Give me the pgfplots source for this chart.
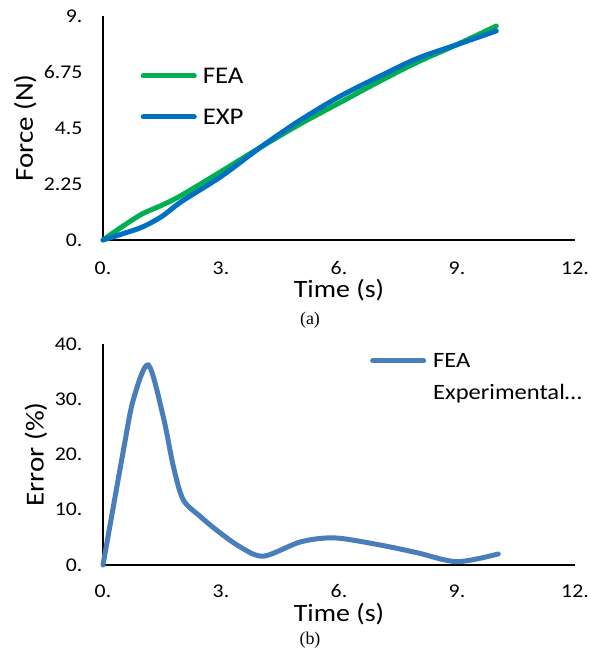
\documentclass[border=0pt]{standalone}
\usepackage{pgfplots}
\pgfplotsset{compat=1.18}
\usepackage{fontspec}
\setmainfont{Carlito}[FakeStretch=1.12]
\newfontfamily\capfont{Liberation Serif}
\definecolor{feagreen}{HTML}{00B050}
\definecolor{expblue}{HTML}{0070C0}
\definecolor{errblue}{HTML}{4A7EBB}
\begin{document}
\begin{tikzpicture}
\useasboundingbox (0bp,0bp) rectangle (596bp,648bp);
\pgfplotsset{
  common/.style={
    scale only axis, width=472bp,
    axis lines=left,
    axis line style={-, line width=1.8bp, black},
    xmin=0, xmax=12,
    xtick={0,3,6,9,12},
    xticklabels={0.,3.,6.,9.,12.},
    major tick length=0pt,
    /pgf/number format/assume math mode=true,
    tick label style={font=\fontsize{19.5}{21}\selectfont},
    yticklabel style={xshift=-17bp},
    xticklabel style={yshift=-18bp},
    ylabel style={rotate=0, font=\fontsize{26}{28}\selectfont},
    xlabel style={font=\fontsize{25}{28}\selectfont},
    legend cell align=left,
    clip=false,
  }
}
% ---------- (a) ----------
\begin{axis}[common,
  at={(103bp,408bp)}, anchor=south west,
  height=224bp,
  ymin=0, ymax=9,
  ytick={0,2.25,4.5,6.75,9},
  yticklabels={0.,2.25,4.5,6.75,9.},
  xlabel={Time (s)},
  ylabel={Force (N)},
  xlabel style={at={(axis description cs:0.5,-0.225)}, anchor=center},
  ylabel style={at={(axis description cs:-0.165,0.5)}, anchor=center, rotate=0},
  legend image code/.code={\draw[#1] (0bp,0bp) -- (51bp,0bp);},
  legend style={draw=none, fill=none, inner sep=0pt, outer sep=0pt,
    at={(axis description cs:0.08,0.767)}, anchor=north west,
    font=\fontsize{24}{26}\selectfont,
    nodes={inner sep=0pt, text height=15.5bp, text depth=0bp},
    row sep=25.5bp, column sep=6bp},
]
\addplot[feagreen, line width=5bp, smooth, line cap=round] coordinates {
(0,0) (0.5,0.55) (1,1.05) (1.5,1.4) (2,1.8) (3,2.75) (4,3.72) (5,4.65) (6,5.5) (7,6.35) (8,7.15) (9,7.85) (10,8.6)};
\addlegendentry{FEA}
\addplot[expblue, line width=5bp, smooth, line cap=round] coordinates {
(0,0) (0.5,0.25) (1,0.52) (1.5,0.95) (2,1.55) (3,2.55) (4,3.72) (5,4.8) (6,5.75) (7,6.55) (8,7.3) (9,7.85) (10,8.4)};
\addlegendentry{EXP}
\end{axis}
% ---------- (b) ----------
\begin{axis}[common,
  at={(103bp,83bp)}, anchor=south west,
  height=221bp,
  ymin=0, ymax=40,
  ytick={0,10,20,30,40},
  yticklabels={0.,10.,20.,30.,40.},
  xticklabel style={yshift=2bp},
  xlabel={Time (s)},
  ylabel={Error (\%)},
  xlabel style={at={(axis description cs:0.5,-0.222)}, anchor=center},
  ylabel style={at={(axis description cs:-0.142,0.5)}, anchor=center, rotate=0},
  legend image code/.code={\draw[#1] (0bp,0bp) -- (51bp,0bp);},
  legend style={draw=none, fill=none, inner sep=0pt, outer sep=0pt,
    at={(axis description cs:0.566,0.955)}, anchor=north west,
    font=\fontsize{22}{24}\selectfont,
    nodes={inner sep=0pt, text height=14bp, text depth=0bp},
    row sep=18bp, column sep=7bp},
]
\addplot[errblue, line width=5bp, smooth, line cap=round] coordinates {
(0,0) (0.52,20.8) (0.77,29.9) (1.15,36.2) (1.53,26.9) (1.79,17.8) (2.04,11.8) (2.47,8.8) (2.89,6.3) (3.48,3.3) (4.08,1.6) (5.03,4.2) (5.9,4.9) (7.06,3.6) (8.0,2.2) (9.0,0.6) (10.05,2.0)};
\addlegendentry{FEA}
\addlegendimage{empty legend}
\addlegendentry{Experimental…}
\end{axis}
\node[font=\capfont\fontsize{18}{20}\selectfont] at (310bp,328bp) {(a)};
\node[font=\capfont\fontsize{18}{20}\selectfont] at (310bp,8bp) {(b)};
\end{tikzpicture}
\end{document}
